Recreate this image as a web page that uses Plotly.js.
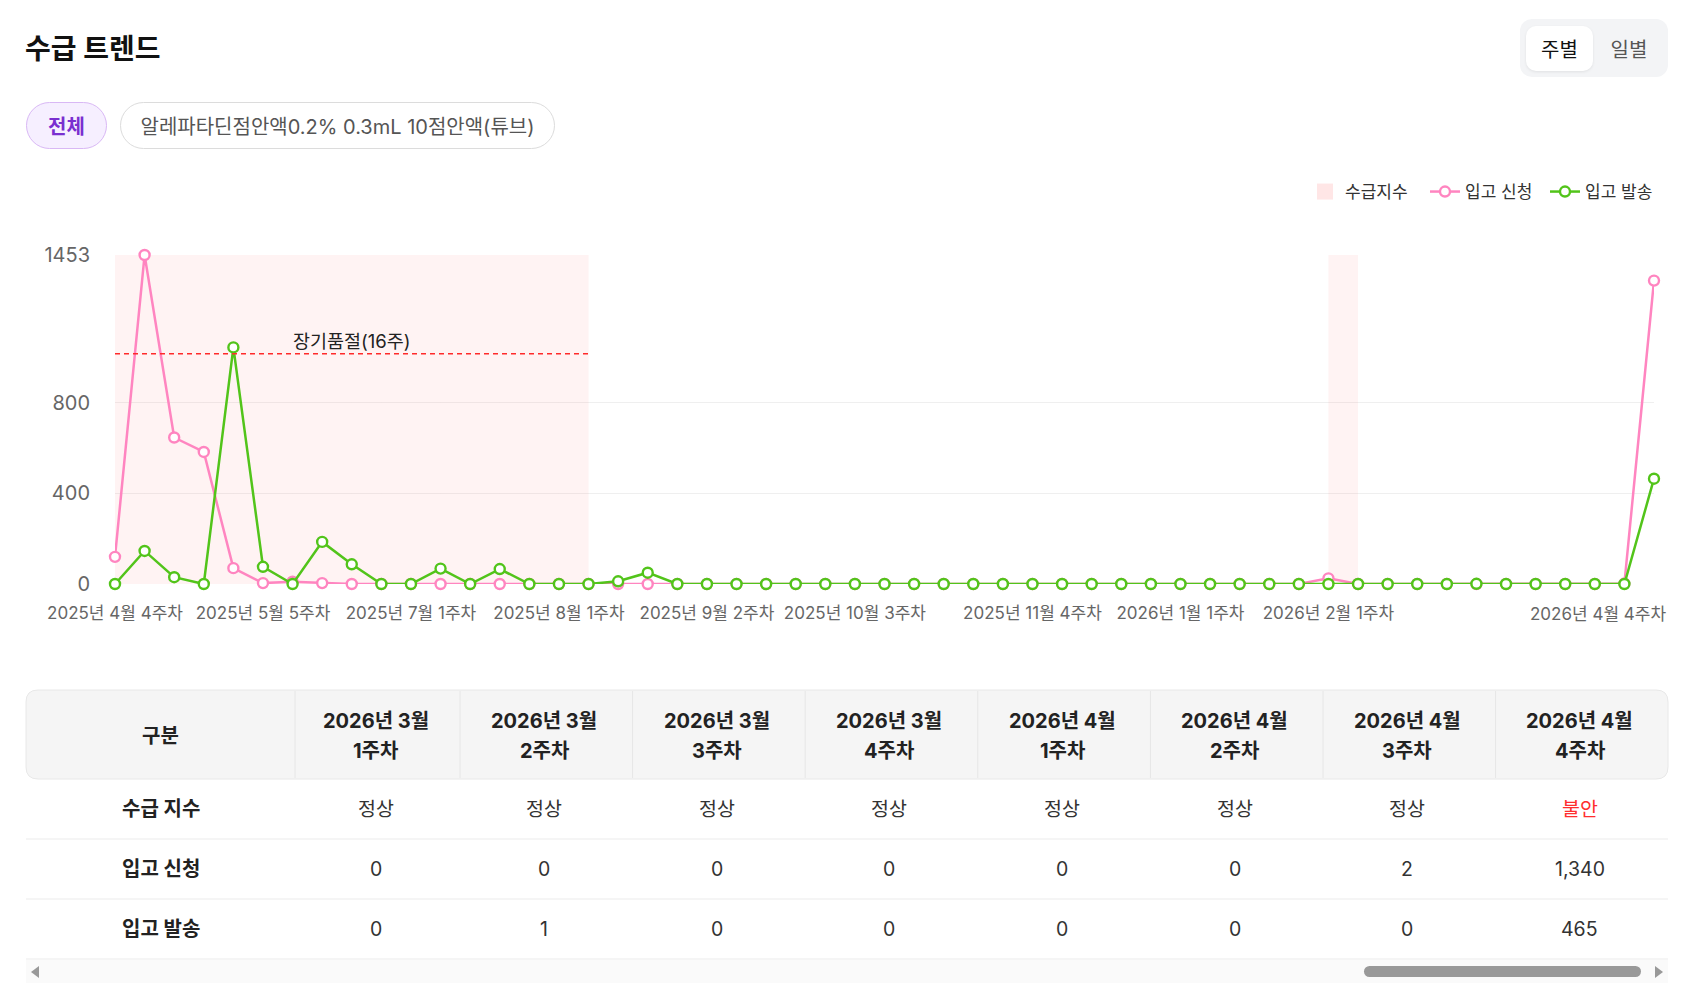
<!DOCTYPE html>
<html><head><meta charset="utf-8">
<script src="https://cdn.plot.ly/plotly-3.0.1.min.js"></script>
<style>
body{margin:0;background:#fff;font-family:Inter,'Noto Sans CJK KR',sans-serif;}
#wrap{position:relative;width:1684px;height:994px;overflow:hidden;background:#fff;}
#chart{position:absolute;left:0;top:0;width:1684px;height:994px;}
.title{position:absolute;left:25px;top:35px;font-size:28px;line-height:28px;font-weight:700;color:#111;}
.toggle{position:absolute;left:1520px;top:19px;width:148px;height:58px;background:#f3f4f6;border-radius:12px;}
.toggle div{position:absolute;top:7px;height:45px;font-size:20px;display:flex;align-items:center;justify-content:center;}
.toggle .on{left:6px;width:67px;background:#fff;border-radius:10px;box-shadow:0 1px 3px rgba(0,0,0,0.08);color:#111;}
.toggle .off{left:75px;width:68px;color:#555;}
.pill{position:absolute;top:102px;height:47px;border-radius:24px;box-sizing:border-box;display:flex;align-items:center;justify-content:center;font-size:20px;}
.pill.all{left:26px;width:81px;background:#f6efff;border:1px solid #d9b8f5;color:#7a2fd0;font-weight:700;}
.pill.drug{left:120px;width:435px;background:#fff;border:1px solid #dcdcdc;color:#555;}
.scroll{position:absolute;left:26px;top:960px;width:1642px;height:23px;background:#fafafa;}
.thumb{position:absolute;left:1338px;top:6px;width:277px;height:11px;border-radius:6px;background:#999;}
.arrL{position:absolute;left:5px;top:6px;width:0;height:0;border-top:6px solid transparent;border-bottom:6px solid transparent;border-right:8px solid #999;}
.arrR{position:absolute;right:5px;top:6px;width:0;height:0;border-top:6px solid transparent;border-bottom:6px solid transparent;border-left:8px solid #999;}
</style></head>
<body>
<div id="wrap">
<div id="chart"></div>
<div class="title">수급 트렌드</div>
<div class="toggle"><div class="on">주별</div><div class="off">일별</div></div>
<div class="pill all">전체</div>
<div class="pill drug">알레파타딘점안액0.2% 0.3mL 10점안액(튜브)</div>
<div class="scroll"><div class="arrL"></div><div class="thumb"></div><div class="arrR"></div></div>
</div>
<script>
// ---------------- data ----------------
const weeks = [
 '2025년 4월 4주차','2025년 5월 1주차','2025년 5월 2주차','2025년 5월 3주차','2025년 5월 4주차','2025년 5월 5주차',
 '2025년 6월 1주차','2025년 6월 2주차','2025년 6월 3주차','2025년 6월 4주차',
 '2025년 7월 1주차','2025년 7월 2주차','2025년 7월 3주차','2025년 7월 4주차','2025년 7월 5주차',
 '2025년 8월 1주차','2025년 8월 2주차','2025년 8월 3주차','2025년 8월 4주차',
 '2025년 9월 1주차','2025년 9월 2주차','2025년 9월 3주차','2025년 9월 4주차',
 '2025년 10월 1주차','2025년 10월 2주차','2025년 10월 3주차','2025년 10월 4주차','2025년 10월 5주차',
 '2025년 11월 1주차','2025년 11월 2주차','2025년 11월 3주차','2025년 11월 4주차',
 '2025년 12월 1주차','2025년 12월 2주차','2025년 12월 3주차','2025년 12월 4주차',
 '2026년 1월 1주차','2026년 1월 2주차','2026년 1월 3주차','2026년 1월 4주차','2026년 1월 5주차',
 '2026년 2월 1주차','2026년 2월 2주차','2026년 2월 3주차','2026년 2월 4주차',
 '2026년 3월 1주차','2026년 3월 2주차','2026년 3월 3주차','2026년 3월 4주차',
 '2026년 4월 1주차','2026년 4월 2주차','2026년 4월 3주차','2026년 4월 4주차'
];
const supplyIndex = [
 '품절','품절','품절','품절','품절','품절','품절','품절','품절','품절',
 '품절','품절','품절','품절','품절','품절','정상','정상','정상','정상',
 '정상','정상','정상','정상','정상','정상','정상','정상','정상','정상',
 '정상','정상','정상','정상','정상','정상','정상','정상','정상','정상',
 '정상','불안','정상','정상','정상','정상','정상','정상','정상','정상',
 '정상','정상','불안'
];
const requests = [
 120,1453,647,583,70,4,10,4,0,0,
 0,0,0,0,0,0,0,0,0,0,
 0,0,0,0,0,0,0,0,0,0,
 0,0,0,0,0,0,0,0,0,0,
 0,25,0,0,0,0,0,0,0,0,
 0,2,1340
];
const shipments = [
 0,146,30,0,1045,76,0,186,87,0,
 0,68,0,66,0,0,0,12,50,0,
 0,0,0,0,0,0,0,0,0,0,
 0,0,0,0,0,0,0,0,0,0,
 0,0,0,0,0,0,1,0,0,0,
 0,0,465
];
const yTicks = [0, 400, 800, 1453];
const xTickLabels = ['2025년 4월 4주차','2025년 5월 5주차','2025년 7월 1주차','2025년 8월 1주차','2025년 9월 2주차',
 '2025년 10월 3주차','2025년 11월 4주차','2026년 1월 1주차','2026년 2월 1주차','2026년 4월 4주차'];
const seriesNames = ['수급지수','입고 신청','입고 발송'];
const tableHeadFirst = '구분';
const rowLabels = ['수급 지수','입고 신청','입고 발송'];
const tableWeeks = 8;

// ---------------- geometry (page px) ----------------
const W = 1684, H = 994;
const px = v => v / W, py = v => 1 - v / H;
const PINK = '#ff85c0', GREEN = '#52c41a';
const FONT = "Inter, 'Noto Sans CJK KR', sans-serif";

const yMax = Math.max(...requests, ...shipments);
const bandY = supplyIndex.map(s => s === '정상' ? null : yMax);
const soStart = supplyIndex.indexOf('품절');
const soLen = supplyIndex.filter(s => s === '품절').length;
const lastLabel = xTickLabels[xTickLabels.length - 1];
const n = weeks.length;

const traces = [
 {type:'bar', name:seriesNames[0], x:weeks, y:bandY, offset:0, width:1, showlegend:false,
  marker:{color:'rgba(255,80,80,0.065)', line:{width:0}}, hoverinfo:'skip'},
 {type:'scatter', mode:'markers', name:seriesNames[0], x:[null], y:[null], showlegend:true,
  marker:{symbol:'square', size:16, color:'#ffe6e6', line:{width:0}}},
 {type:'scatter', mode:'lines+markers', name:seriesNames[1], x:weeks, y:requests, cliponaxis:false,
  line:{color:PINK, width:2.5}, marker:{symbol:'circle', size:10, color:'#fff', line:{color:PINK, width:2.4}}},
 {type:'scatter', mode:'lines+markers', name:seriesNames[2], x:weeks, y:shipments, cliponaxis:false,
  line:{color:GREEN, width:2.5}, marker:{symbol:'circle', size:10, color:'#fff', line:{color:GREEN, width:2.4}}}
];

const shapes = [
 {type:'line', xref:'x', yref:'y', x0:soStart, x1:soStart + soLen, y0:yMax*0.7, y1:yMax*0.7,
  line:{color:'#ff2a2a', width:1.6, dash:'5px,4px'}, layer:'above'}
];
const annotations = [
 {xref:'x', yref:'y', x:soStart + soLen/2, y:yMax*0.7, text:'장기품절(' + soLen + '주)', showarrow:false,
  yanchor:'bottom', yshift:0, font:{size:18.5, color:'#222'}},
 {xref:'x', yref:'y', x:weeks.indexOf(lastLabel), y:0, text:lastLabel, showarrow:false, xanchor:'right', yanchor:'top',
  xshift:14, yshift:-18, font:{size:17, color:'#666'}}
];

// ---------------- table (shapes + annotations built from the data) ----------------
const T = {left:26, right:1668, top:690, headBottom:779, rowH:60, colW:[269,165,172.6,172.6,172.6,172.6,172.6,172.6,172.6], r:12};
const idx = Array.from({length:tableWeeks}, (_, k) => n - tableWeeks + k);
const fmt = v => v.toLocaleString('en-US');
const colX = [T.left]; T.colW.forEach(w => colX.push(colX[colX.length-1] + w));
const colC = T.colW.map((w, i) => colX[i] + w/2);
(function(){
 const x0=T.left, x1=T.right, y0=T.top, y1=T.headBottom, r=T.r;
 const P = (x, y) => px(x) + ',' + py(y);
 const d = 'M' + P(x0+r,y0) + ' L' + P(x1-r,y0) + ' Q' + P(x1,y0) + ' ' + P(x1,y0+r) + ' L' + P(x1,y1-r) +
   ' Q' + P(x1,y1) + ' ' + P(x1-r,y1) + ' L' + P(x0+r,y1) + ' Q' + P(x0,y1) + ' ' + P(x0,y1-r) +
   ' L' + P(x0,y0+r) + ' Q' + P(x0,y0) + ' ' + P(x0+r,y0) + ' Z';
 shapes.push({type:'path', xref:'paper', yref:'paper', path:d, fillcolor:'#f5f5f5', line:{color:'#e8e8e8', width:1}, layer:'below'});
})();
for (let c = 1; c < colX.length - 1; c++) {
 shapes.push({type:'line', xref:'paper', yref:'paper', x0:px(colX[c]), x1:px(colX[c]), y0:py(T.top+1), y1:py(T.headBottom-1),
  line:{color:'#e6e6e6', width:1}, layer:'below'});
}
for (let r = 1; r <= rowLabels.length; r++) {
 const yy = T.headBottom + r*T.rowH;
 shapes.push({type:'line', xref:'paper', yref:'paper', x0:px(T.left), x1:px(T.right), y0:py(yy), y1:py(yy),
  line:{color:'#ebebeb', width:1}, layer:'below'});
}
const headMid = (T.top + T.headBottom)/2;
annotations.push({xref:'paper', yref:'paper', x:px(colC[0]), y:py(headMid + 1), text:'<b>' + tableHeadFirst + '</b>', showarrow:false,
 xanchor:'center', yanchor:'middle', font:{size:20, color:'#222'}});
idx.forEach((i, k) => {
 const m = weeks[i].match(/^(.*월) (\d+주차)$/);
 annotations.push({xref:'paper', yref:'paper', x:px(colC[k+1] - 2), y:py(headMid - 14), text:'<b>' + m[1] + '</b>', showarrow:false,
  xanchor:'center', yanchor:'middle', font:{size:20, color:'#222'}});
 annotations.push({xref:'paper', yref:'paper', x:px(colC[k+1] - 2), y:py(headMid + 16), text:'<b>' + m[2] + '</b>', showarrow:false,
  xanchor:'center', yanchor:'middle', font:{size:20, color:'#222'}});
});
const rowVals = [
 idx.map(i => supplyIndex[i]),
 idx.map(i => fmt(requests[i])),
 idx.map(i => fmt(shipments[i]))
];
rowLabels.forEach((lab, r) => {
 const yc = T.headBottom + r*T.rowH + T.rowH/2;
 annotations.push({xref:'paper', yref:'paper', x:px(colC[0]), y:py(yc), text:'<b>' + lab + '</b>', showarrow:false,
  xanchor:'center', yanchor:'middle', font:{size:20, color:'#222'}});
 rowVals[r].forEach((v, k) => {
  annotations.push({xref:'paper', yref:'paper', x:px(colC[k+1] - 2), y:py(yc), text:v, showarrow:false,
   xanchor:'center', yanchor:'middle', font:{size:19.5, color:(v === '불안' ? '#ff2e2e' : '#333')}});
 });
});

const layout = {
 width:W, height:H, margin:{l:0, r:0, t:0, b:0}, paper_bgcolor:'rgba(0,0,0,0)', plot_bgcolor:'rgba(0,0,0,0)',
 font:{family:FONT, color:'#333'},
 barmode:'overlay', showlegend:true, hovermode:false,
 legend:{orientation:'h', x:px(1305), xanchor:'left', y:py(192), yanchor:'middle', font:{size:17, color:'#333'},
  itemwidth:30, entrywidth:75, entrywidthmode:'pixels', bgcolor:'rgba(0,0,0,0)', traceorder:'normal'},
 xaxis:{type:'category', domain:[px(115), px(1654)], range:[0, n-1], categoryorder:'array', categoryarray:weeks,
  tickmode:'array', tickvals:xTickLabels, ticktext:xTickLabels.map(t => t === lastLabel ? '' : t),
  showgrid:false, zeroline:false, showline:false, ticks:'', ticklabelstandoff:17,
  tickfont:{size:17, color:'#666'}, automargin:false, fixedrange:true},
 yaxis:{domain:[py(584), py(255)], range:[0, yMax], tickmode:'array', tickvals:yTicks, ticktext:yTicks.map(String),
  showgrid:true, gridcolor:'#efefef', gridwidth:1, zeroline:false, showline:false, ticks:'', ticklabelstandoff:24,
  tickfont:{size:20, color:'#666'}, automargin:false, fixedrange:true},
 shapes:shapes, annotations:annotations
};
Plotly.newPlot('chart', traces, layout, {staticPlot:true, displayModeBar:false});
</script>
</body></html>
